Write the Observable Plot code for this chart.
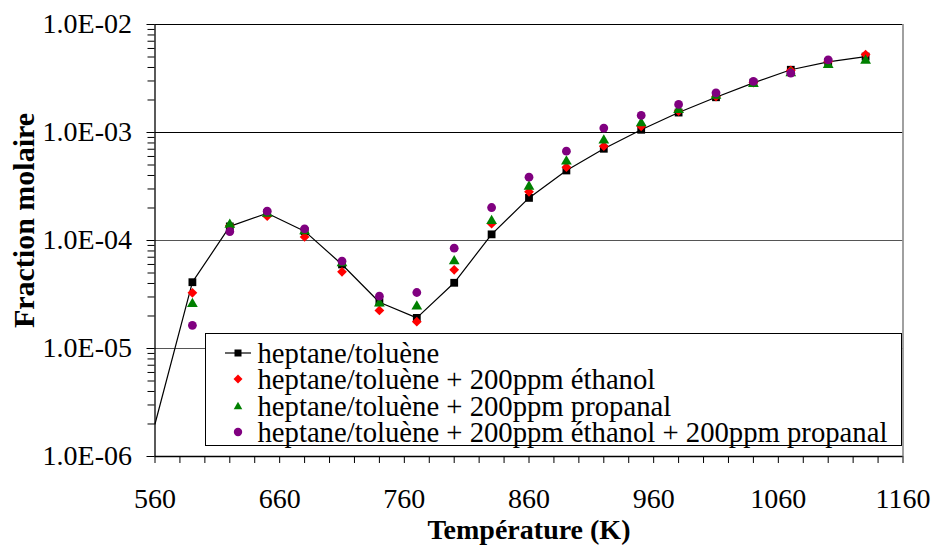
<!DOCTYPE html>
<html>
<head>
<meta charset="utf-8">
<script src="https://cdn.jsdelivr.net/npm/d3@7"></script>
<script src="https://cdn.jsdelivr.net/npm/@observablehq/plot@0.6"></script>
<style>
  html, body { margin: 0; padding: 0; background: white; }
  #wrap { position: relative; width: 934px; height: 551px; font-family: "Liberation Serif", "Times New Roman", serif; }
  #legend { position: absolute; left: 204.5px; top: 332.5px; width: 697px; height: 113px; border: 1px solid black; background: white; box-sizing: border-box; padding-top: 6.5px; }
  .row { display: flex; align-items: center; height: 26.3px; font-size: 28.7px; line-height: 26.3px; white-space: nowrap; }
  .row svg { width: 52px; height: 20px; flex: none; }
  .row span { display: inline-block; height: 26px; line-height: 26px; overflow: visible; }
</style>
</head>
<body>
<div id="wrap"></div>
<script>
// ---- data ----
const temps = [590, 620, 650, 680, 710, 740, 770, 800, 830, 860, 890, 920, 950, 980, 1010, 1040, 1070, 1100, 1130];
const heptTol = [4.11e-5, 1.35e-4, 1.79e-4, 1.22e-4, 6.0e-5, 2.68e-5, 1.92e-5, 4.06e-5, 1.14e-4, 2.48e-4, 4.45e-4, 7.07e-4, 1.06e-3, 1.53e-3, 2.12e-3, 2.88e-3, 3.81e-3, 4.51e-3, 5.05e-3];
const plusEthanol = [3.28e-5, 1.37e-4, 1.68e-4, 1.08e-4, 5.13e-5, 2.25e-5, 1.77e-5, 5.35e-5, 1.43e-4, 2.82e-4, 4.77e-4, 7.47e-4, 1.14e-3, 1.58e-3, 2.15e-3, 2.90e-3, 3.75e-3, 4.54e-3, 5.27e-3];
const plusPropanal = [2.59e-5, 1.40e-4, 1.77e-4, 1.22e-4, 6.16e-5, 2.61e-5, 2.45e-5, 6.43e-5, 1.52e-4, 3.16e-4, 5.39e-4, 8.43e-4, 1.22e-3, 1.62e-3, 2.20e-3, 2.82e-3, 3.54e-3, 4.23e-3, 4.64e-3];
const plusBoth = [1.64e-5, 1.21e-4, 1.87e-4, 1.28e-4, 6.43e-5, 3.05e-5, 3.30e-5, 8.49e-5, 2.02e-4, 3.86e-4, 6.71e-4, 1.10e-3, 1.44e-3, 1.82e-3, 2.33e-3, 2.97e-3, 3.54e-3, 4.71e-3, null];
// line of the base series starts at the left axis
const lineStartT = 560;
const lineStartV = 2.0e-6;

const seriesNames = [
  "heptane/toluène",
  "heptane/toluène + 200ppm éthanol",
  "heptane/toluène + 200ppm propanal",
  "heptane/toluène + 200ppm éthanol + 200ppm propanal"
];
const yMajor = [1e-6, 1e-5, 1e-4, 1e-3, 1e-2];
const yTickLabels = ["1.0E-06", "1.0E-05", "1.0E-04", "1.0E-03", "1.0E-02"];
const xLabels = [560, 660, 760, 860, 960, 1060, 1160];
const xTitle = "Température (K)";
const yTitle = "Fraction molaire";

// ---- build tables ----
const toRows = vals => temps.map((T, i) => ({T, v: vals[i]})).filter(d => d.v != null);
const rowsBase = toRows(heptTol);
const rowsEth = toRows(plusEthanol);
const rowsProp = toRows(plusPropanal);
const rowsBoth = toRows(plusBoth);
const lineRows = [{T: lineStartT, v: lineStartV}, ...rowsBase];

const yMinor = [];
for (let k = 0; k < yMajor.length - 1; k++) for (let m = 2; m <= 9; m++) yMinor.push(yMajor[k] * m);
const xTicks = d3.range(560, 1161, 20);
const serif = "'Liberation Serif', 'Times New Roman', serif";

const chart = Plot.plot({
  width: 934,
  height: 551,
  marginLeft: 154.5,
  marginRight: 31.5,
  marginTop: 24,
  marginBottom: 95,
  x: {domain: [560, 1160]},
  y: {type: "log", domain: [1e-6, 1e-2]},
  style: {fontFamily: serif, fontSize: "28px", background: "white", color: "black", overflow: "visible"},
  marks: [
    Plot.ruleY([1e-5, 1e-4], {stroke: "#555", strokeWidth: 1.2}),
    Plot.ruleY([1e-3], {stroke: "black", strokeWidth: 1}),
    Plot.ruleY([1e-2], {stroke: "black", strokeWidth: 1}),
    Plot.ruleX([1160], {stroke: "#808080", strokeWidth: 1.5}),
    Plot.axisY(yMinor, {tickSize: 7, tickFormat: () => "", label: null, stroke: "black"}),
    Plot.axisY(yMajor, {tickSize: 8, tickPadding: 15, tickFormat: d => yTickLabels[yMajor.indexOf(d)], label: null, stroke: "black", fontSize: 28, fontFamily: serif}),
    Plot.axisX(xTicks, {tickSize: 7, tickPadding: 25, tickFormat: d => xLabels.includes(d) ? String(d) : "", label: null, stroke: "black", fontSize: 28, fontFamily: serif}),
    Plot.ruleX([560], {stroke: "black", strokeWidth: 1.3}),
    Plot.ruleY([1e-6], {stroke: "black", strokeWidth: 1.3}),
    Plot.line(lineRows, {x: "T", y: "v", stroke: "black", strokeWidth: 1.2}),
    Plot.dot(rowsBase, {x: "T", y: "v", symbol: "square", fill: "black", r: 4.4}),
    Plot.dot(rowsEth, {x: "T", y: "v", symbol: "diamond2", fill: "#ff0000", r: 4.4}),
    Plot.dot(rowsProp, {x: "T", y: "v", symbol: "triangle", fill: "#008000", r: 4.0}),
    Plot.dot(rowsBoth, {x: "T", y: "v", symbol: "circle", fill: "#800080", r: 4.4}),
    Plot.text([xTitle], {frameAnchor: "bottom", dy: 74, fontWeight: "bold", fontSize: 28, fontFamily: serif, textAnchor: "middle", lineAnchor: "middle"}),
    Plot.text([yTitle], {frameAnchor: "left", dx: -131, dy: -20, rotate: -90, fontWeight: "bold", fontSize: 30, fontFamily: serif, textAnchor: "middle", lineAnchor: "middle"})
  ]
});

const wrap = document.getElementById("wrap");
wrap.appendChild(chart);

// ---- legend (inside plot area) ----
const legend = document.createElement("div");
legend.id = "legend";
const symbols = [
  '<line x1="1" y1="10" x2="27" y2="10" stroke="black" stroke-width="1.2"/><rect x="10.5" y="6.5" width="7" height="7" fill="black"/>',
  '<path d="M14,5.5 L18.5,10 L14,14.5 L9.5,10 Z" fill="#ff0000"/>',
  '<path d="M14,5.8 L18.3,13.3 L9.7,13.3 Z" fill="#008000"/>',
  '<circle cx="14" cy="10" r="4.2" fill="#800080"/>'
];
seriesNames.forEach((name, i) => {
  const row = document.createElement("div");
  row.className = "row";
  row.innerHTML = '<svg viewBox="-18 0 52 20">' + symbols[i] + '</svg><span>' + name + '</span>';
  legend.appendChild(row);
});
wrap.appendChild(legend);
</script>
</body>
</html>
